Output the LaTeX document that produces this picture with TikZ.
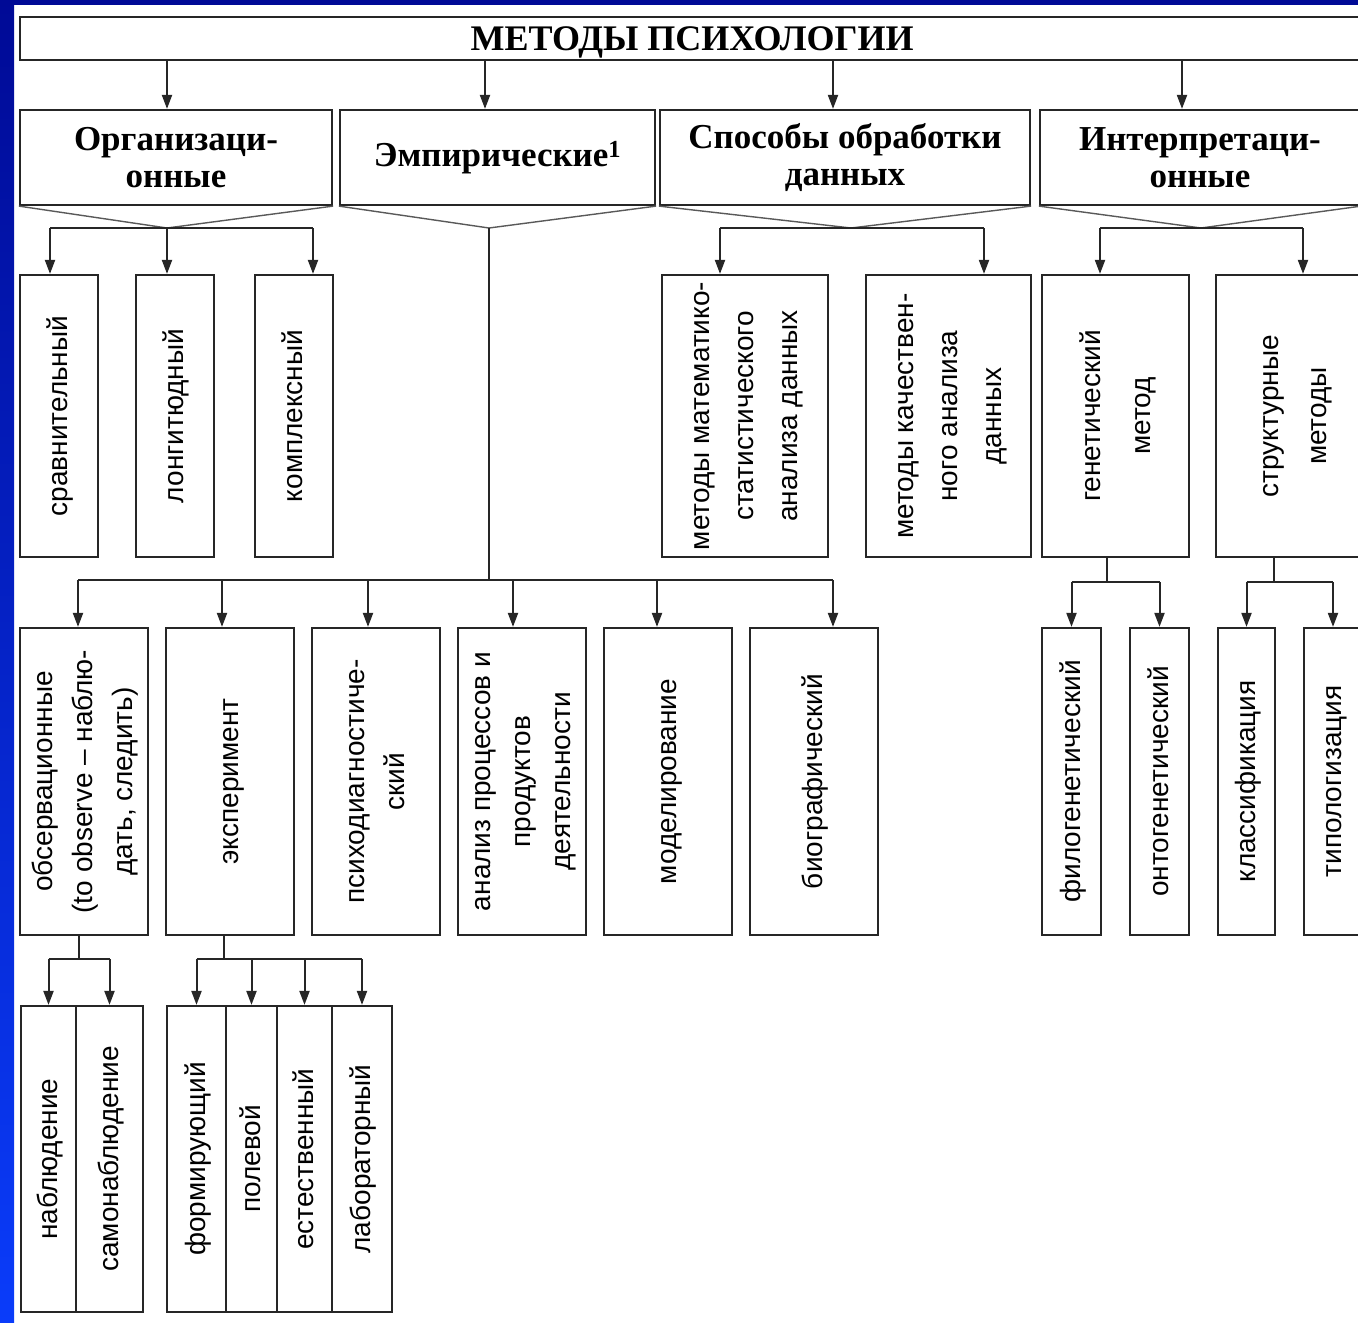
\documentclass[tikz,border=0pt]{standalone}
\usepackage{fontspec}
\setmainfont{Liberation Serif}
\newfontfamily\vsans{Liberation Sans}
\usetikzlibrary{calc, arrows.meta}

\definecolor{frameblue}{RGB}{0,10,150}
\definecolor{framelight}{RGB}{10,60,250}

% rotated text inside the tall boxes
\newcommand{\vt}[2][44]{\rotatebox{90}{\vsans\fontsize{28}{#1}\selectfont\begin{tabular}{@{}c@{}}#2\end{tabular}}}

\begin{document}
\begin{tikzpicture}[>={Triangle[length=14pt,width=10pt]}, x=1pt, y=-1pt,
    box/.style={draw=black!85, line width=2.2pt, inner sep=0pt},
    head/.style={box, align=center, minimum height=95pt, font=\fontsize{35}{37}\selectfont\bfseries},
    cellA/.style={box, minimum height=282pt},
    cellB/.style={box, minimum height=307pt},
    cellC/.style={box, minimum height=306pt},
    link/.style={line width=2pt, black!85},
    vee/.style={line width=1.4pt, black!65}]

  \useasboundingbox (0,0) rectangle (1358,1323);
  \clip (0,0) rectangle (1358,1323);

  % title and the four groups
  \node[box, minimum width=1344, minimum height=43, text depth=0pt, font=\fontsize{36}{40}\selectfont\bfseries] (title) at (692,38.5) {МЕТОДЫ ПСИХОЛОГИИ};

  \node[head, minimum width=312] (org) at (176,157.5) {Организаци-\\онные};
  \node[head, minimum width=315] (emp) at (497.5,157.5) {Эмпирические\textsuperscript{1}};
  \node[head, minimum width=370] (spos) at (845,157.5) {Способы обработки\\данных};
  \node[head, minimum width=320] (intr) at (1200,157.5) {Интерпретаци-\\онные};

  % second row
  \node[cellA, minimum width=78] (srav) at (59,416) {\vt{сравнительный}};
  \node[cellA, minimum width=78] (long) at (175,416) {\vt{лонгитюдный}};
  \node[cellA, minimum width=78] (kompl) at (294,416) {\vt{комплексный}};
  \node[cellA, minimum width=166] (matem) at (745,416) {\vt{методы математико-\\статистического\\анализа данных}};
  \node[cellA, minimum width=165] (kach) at (948.5,416) {\vt{методы качествен-\\ного анализа\\данных}};
  \node[cellA, minimum width=147] (genet) at (1115.5,416) {\vt[50]{генетический\\метод}};
  \node[cellA, minimum width=154] (struct) at (1293,416) {\vt[48]{структурные\\методы}};

  % third row
  \node[cellB, minimum width=128] (obs) at (84,781.5) {\vt[40]{обсервационные\\(to observe – наблю-\\дать, следить)}};
  \node[cellB, minimum width=128] (expt) at (230,781.5) {\vt{эксперимент}};
  \node[cellB, minimum width=128] (psy) at (376,781.5) {\vt[40]{психодиагностиче-\\ский}};
  \node[cellB, minimum width=128] (anal) at (522,781.5) {\vt[40]{анализ процессов и\\продуктов\\деятельности}};
  \node[cellB, minimum width=128] (model) at (668,781.5) {\vt{моделирование}};
  \node[cellB, minimum width=128] (bio) at (814,781.5) {\vt{биографический}};
  \node[cellB, minimum width=59] (filo) at (1071.5,781.5) {\vt{филогенетический}};
  \node[cellB, minimum width=59] (onto) at (1159.5,781.5) {\vt{онтогенетический}};
  \node[cellB, minimum width=57] (klass) at (1246.5,781.5) {\vt{классификация}};
  \node[cellB, minimum width=58] (tipo) at (1333,781.5) {\vt{типологизация}};

  % fourth row
  \node[cellC, minimum width=55] (nabl) at (48.5,1159) {\vt{наблюдение}};
  \node[cellC, minimum width=67] (samo) at (109.5,1159) {\vt{самонаблюдение}};
  \node[cellC, minimum width=59] (form) at (196.5,1159) {\vt{формирующий}};
  \node[cellC, minimum width=51] (pole) at (251.5,1159) {\vt{полевой}};
  \node[cellC, minimum width=55] (estv) at (304.5,1159) {\vt{естественный}};
  \node[cellC, minimum width=60] (lab) at (362,1159) {\vt{лабораторный}};

  % where the arrows enter the boxes
  \foreach \c/\s in {org/-9, emp/-12.5, spos/-12, intr/-18,
                     srav/-9, long/-8, kompl/19, matem/-25, kach/35.5, genet/-15.5, struct/10,
                     obs/-6, expt/-8, psy/-8, anal/-9, model/-11, bio/19}
    \coordinate (\c-in) at ([xshift=\s pt]\c.north);

  \coordinate (orgV) at (167,228);
  \coordinate (empV) at (489,228);
  \coordinate (sposV) at (851,228);
  \coordinate (intrV) at (1201,228);
  \coordinate (empbar) at (489,580);
  \coordinate (genbar) at (1107,582);
  \coordinate (strbar) at (1274,582);
  \coordinate (obsbar) at (79,959);
  \coordinate (exptbar) at (224,959);

  % title to groups
  \foreach \c in {org, emp, spos, intr}
    \draw[->, link] (title.south -| \c-in) -- (\c-in);

  % fans under the groups
  \foreach \c in {org, emp, spos, intr}
    \draw[vee] (\c.south west) -- (\c V) -- (\c.south east);

  \draw[link] (srav-in |- orgV) -- (kompl-in |- orgV);
  \foreach \c in {srav, long, kompl}
    \draw[->, link] (\c-in |- orgV) -- (\c-in);

  \draw[link] (matem-in |- sposV) -- (kach-in |- sposV);
  \foreach \c in {matem, kach}
    \draw[->, link] (\c-in |- sposV) -- (\c-in);

  \draw[link] (genet-in |- intrV) -- (struct-in |- intrV);
  \foreach \c in {genet, struct}
    \draw[->, link] (\c-in |- intrV) -- (\c-in);

  \draw[link] (empV) -- (empbar);
  \draw[link] (obs-in |- empbar) -- (bio-in |- empbar);
  \foreach \c in {obs, expt, psy, anal, model, bio}
    \draw[->, link] (\c-in |- empbar) -- (\c-in);

  % lower branches
  \draw[link] (genet.south -| genbar) -- (genbar);
  \draw[link] (filo.north |- genbar) -- (onto.north |- genbar);
  \foreach \c in {filo, onto}
    \draw[->, link] (\c.north |- genbar) -- (\c.north);

  \draw[link] (struct.south -| strbar) -- (strbar);
  \draw[link] (klass.north |- strbar) -- (tipo.north |- strbar);
  \foreach \c in {klass, tipo}
    \draw[->, link] (\c.north |- strbar) -- (\c.north);

  \draw[link] (obs.south -| obsbar) -- (obsbar);
  \draw[link] (nabl.north |- obsbar) -- (samo.north |- obsbar);
  \foreach \c in {nabl, samo}
    \draw[->, link] (\c.north |- obsbar) -- (\c.north);

  \draw[link] (expt.south -| exptbar) -- (exptbar);
  \draw[link] (form.north |- exptbar) -- (lab.north |- exptbar);
  \foreach \c in {form, pole, estv, lab}
    \draw[->, link] (\c.north |- exptbar) -- (\c.north);

  % slide frame
  \shade[top color=frameblue, bottom color=framelight] (0,0) rectangle (14,1323);
  \fill[frameblue] (0,0) rectangle (1358,5);
\end{tikzpicture}
\end{document}
